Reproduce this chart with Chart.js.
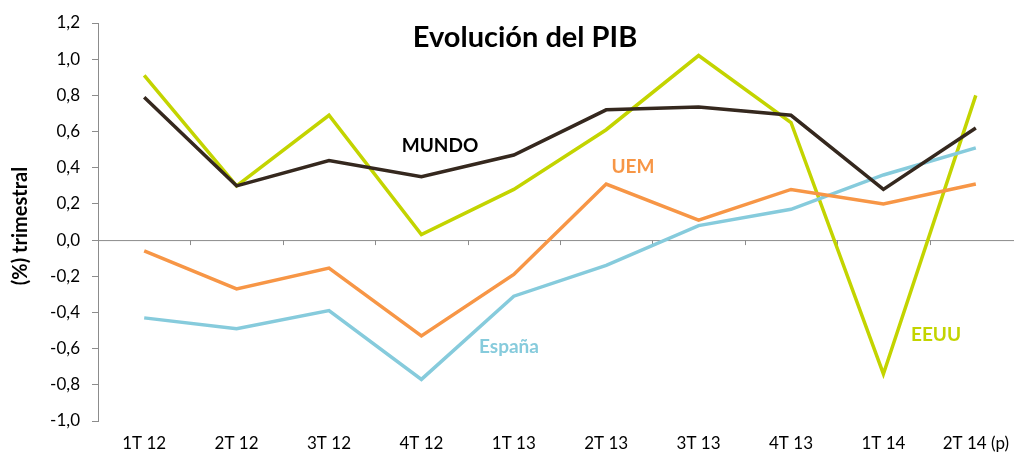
<!DOCTYPE html>
<html>
<head>
<meta charset="utf-8">
<script src="https://cdn.jsdelivr.net/npm/chart.js@4.4.1/dist/chart.umd.min.js"></script>
<style>
  html, body { margin: 0; padding: 0; background: #fff; overflow: hidden; }
  #wrap { width: 1024px; height: 458px; }
</style>
</head>
<body>
<div id="wrap"><canvas id="pibChart" width="1024" height="458"></canvas></div>
<script>
// trimestres
var categories = ['1T 12', '2T 12', '3T 12', '4T 12', '1T 13', '2T 13', '3T 13', '4T 13', '1T 14', '2T 14 (p)'];

// % trimestral
var mundo  = [0.79, 0.30, 0.44, 0.35, 0.47, 0.72, 0.735, 0.69, 0.28, 0.62];
var eeuu   = [0.91, 0.30, 0.69, 0.03, 0.28, 0.61, 1.02, 0.65, -0.74, 0.80];
var uem    = [-0.06, -0.27, -0.155, -0.53, -0.19, 0.31, 0.11, 0.28, 0.20, 0.31];
var espana = [-0.43, -0.49, -0.39, -0.77, -0.31, -0.14, 0.08, 0.17, 0.36, 0.51];

var yMin = -1.0, yMax = 1.2, yStep = 0.2;

var FONT = 'Lato, "Open Sans", sans-serif';

// textos dibujados sobre el grafico
var labelsPlugin = {
  id: 'labelsPlugin',
  beforeDatasetsDraw: function (chart) {
    var c = chart.ctx;
    var x = chart.scales.x, y = chart.scales.y;
    var y0 = y.getPixelForValue(0);
    c.save();
    // linea del cero con marcas entre categorias
    c.strokeStyle = '#8c8c8c';
    c.lineWidth = 1;
    c.beginPath();
    c.moveTo(x.left, y0 + 0.5);
    c.lineTo(chart.width, y0 + 0.5);
    for (var i = 0; i < categories.length; i++) {
      var bx = Math.round((x.getPixelForValue(i) + x.getPixelForValue(i + 1)) / 2) + 0.5;
      c.moveTo(bx, y0);
      c.lineTo(bx, y0 + 5);
    }
    c.stroke();
    c.restore();
  },
  afterDraw: function (chart) {
    var c = chart.ctx;
    c.save();
    c.textAlign = 'center';
    c.textBaseline = 'middle';

    c.fillStyle = '#000';
    c.font = 'bold 29px ' + FONT;
    c.fillText('Evolución del PIB', 525, 38);

    c.font = 'bold 19px ' + FONT;
    c.fillStyle = '#000';
    c.fillText('MUNDO', 440, 146);
    c.fillStyle = '#f79646';
    c.fillText('UEM', 633, 167);
    c.fillStyle = '#c3d400';
    c.fillText('EEUU', 936, 335);
    c.fillStyle = '#86cbdc';
    c.fillText('España', 509, 347);

    c.translate(21, 226);
    c.rotate(-Math.PI / 2);
    c.fillStyle = '#000';
    c.font = 'bold 20px ' + FONT;
    c.fillText('(%) trimestral', 0, 0);
    c.restore();
  }
};

function serie(label, data, color) {
  return {
    label: label,
    data: data,
    borderColor: color,
    backgroundColor: color,
    borderWidth: 3.5,
    pointRadius: 0,
    pointHoverRadius: 0,
    tension: 0,
    fill: false
  };
}

var ctx = document.getElementById('pibChart').getContext('2d');
var pibChart = new Chart(ctx, {
  type: 'line',
  data: {
    labels: categories,
    datasets: [
      serie('MUNDO', mundo, '#35281e'),
      serie('UEM', uem, '#f79646'),
      serie('España', espana, '#86cbdc'),
      serie('EEUU', eeuu, '#c3d400')
    ]
  },
  options: {
    responsive: false,
    animation: false,
    layout: { padding: { top: 23, right: 2, left: 0, bottom: 0 } },
    plugins: {
      legend: { display: false },
      title: { display: false },
      tooltip: { enabled: false }
    },
    scales: {
      x: {
        offset: true,
        grid: { display: false, drawTicks: false },
        border: { display: false },
        ticks: {
          color: '#000',
          padding: 12,
          maxRotation: 0,
          autoSkip: false,
          font: { family: FONT, size: 17 }
        },
        afterFit: function (s) { s.height = 37; }
      },
      y: {
        min: yMin,
        max: yMax,
        grid: { drawOnChartArea: false, tickLength: 6, color: '#8c8c8c' },
        border: { display: true, color: '#8c8c8c' },
        ticks: {
          stepSize: yStep,
          color: '#000',
          padding: 12,
          font: { family: FONT, size: 17 },
          callback: function (v) {
            if (Math.abs(v) < 1e-9) v = 0;
            return v.toFixed(1).replace('.', ',');
          }
        },
        afterFit: function (s) { s.width = 98; }
      }
    }
  },
  plugins: [labelsPlugin]
});
</script>
</body>
</html>
